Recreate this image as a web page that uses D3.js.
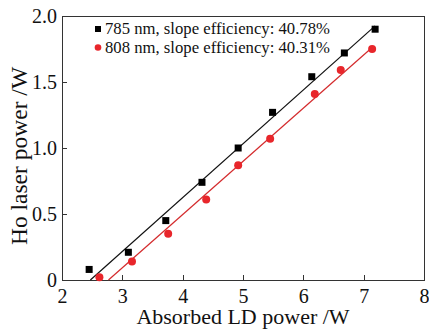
<!doctype html>
<html>
<head>
  <style>
      body { margin:0; background:#fff; }
      svg { width:429px; height:333px; display:block; }
      .axis path, .axis line { stroke:#333; shape-rendering:crispEdges; }
  </style>
  <script src="https://cdn.jsdelivr.net/npm/d3@7"></script>
</head>
<body>
  <script>
      // data
      var x785 = [2.45, 3.10, 3.72, 4.32, 4.92, 5.49, 6.14, 6.68, 7.19];
      var y785 = [0.08, 0.21, 0.45, 0.74, 1.00, 1.27, 1.54, 1.72, 1.90];
      var x808 = [2.62, 3.16, 3.76, 4.39, 4.92, 5.45, 6.19, 6.62, 7.14];
      var y808 = [0.02, 0.14, 0.35, 0.61, 0.87, 1.07, 1.41, 1.59, 1.75];
      // fitted lines: [x at zero, slope]
      var fit785 = [2.47, 0.4078];
      var fit808 = [2.77, 0.4031];
      var legendText = ["785 nm, slope efficiency: 40.78%", "808 nm, slope efficiency: 40.31%"];
      var xTicks = [2, 3, 4, 5, 6, 7, 8];
      var yTicks = [0, 0.5, 1.0, 1.5, 2.0];

      var mLeft = 62, mRight = 424, mTop = 16, mBottom = 280;
      var serif = "'Liberation Serif'";
      var red = "#e8262b";

      var svg = d3.select("body").append("svg")
         .attr("width", 429).attr("height", 333);

      var x = d3.scaleLinear().domain([2, 8]).range([mLeft, mRight]);
      var y = d3.scaleLinear().domain([0, 2]).range([mBottom, mTop]);

      // frame
      svg.append("rect")
         .attr("x", mLeft).attr("y", mTop)
         .attr("width", mRight-mLeft).attr("height", mBottom-mTop)
         .attr("fill", "none").attr("stroke", "#333")
         .attr("shape-rendering", "crispEdges");

      var gx = svg.append("g").attr("class", "axis")
         .attr("transform", "translate(0," + mBottom + ")")
         .call(d3.axisBottom(x).tickValues(xTicks).tickSizeInner(-5).tickSizeOuter(0).tickPadding(9)
               .tickFormat(d3.format("d")));

      var gy = svg.append("g").attr("class", "axis")
         .attr("transform", "translate(" + mLeft + ",0)")
         .call(d3.axisLeft(y).tickValues(yTicks).tickSizeInner(-5).tickSizeOuter(0).tickPadding(5)
               .tickFormat(function(d) { return d === 0 ? "0" : d3.format(".1f")(d); }));

      // d3 puts font-family="sans-serif" on the axis groups; drop it
      gx.attr("font-family", null).attr("font-size", null);
      gy.attr("font-family", null).attr("font-size", null);
      svg.selectAll(".axis .domain").remove();
      svg.selectAll(".axis text")
         .style("font-family", serif)
         .style("font-size", "20px")
         .style("fill", "#111");

      // fit lines
      function fitLine(fit, xs, color) {
         var x1 = xs[xs.length-1];
         svg.append("line")
            .attr("x1", x(fit[0])).attr("y1", y(0))
            .attr("x2", x(x1)).attr("y2", y(fit[1]*(x1-fit[0])))
            .attr("stroke", color).attr("stroke-width", 1.2);
      }
      fitLine(fit785, x785, "#111");
      fitLine(fit808, x808, "#d42a2c");

      svg.append("g").selectAll("rect")
         .data(x785)
         .enter().append("rect")
         .attr("x", function(d) { return x(d) - 3.5 })
         .attr("y", function(d,i) { return y(y785[i]) - 3.5 })
         .attr("width", 7).attr("height", 7)
         .attr("fill", "#000");

      svg.append("g").selectAll("circle")
         .data(x808)
         .enter().append("circle")
         .attr("cx", function(d) { return x(d) })
         .attr("cy", function(d,i) { return y(y808[i]) })
         .attr("r", 4)
         .attr("fill", red);

      // legend
      svg.append("rect").attr("x", 95).attr("y", 26).attr("width", 6).attr("height", 6).attr("fill", "#000");
      svg.append("circle").attr("cx", 98).attr("cy", 47.5).attr("r", 3.3).attr("fill", red);
      svg.selectAll(".leg")
         .data(legendText)
         .enter().append("text")
         .attr("class", "leg")
         .attr("x", 105)
         .attr("y", function(d,i) { return 33.5 + i*19 })
         .style("font-family", serif)
         .style("font-size", "16.7px")
         .style("fill", "#111")
         .text(function(d) { return d });

      // axis titles
      svg.append("text")
         .attr("x", 243)
         .attr("y", 324)
         .style("font-family", serif)
         .style("font-size", "22px")
         .style("fill", "#111")
         .style("text-anchor", "middle")
         .text("Absorbed LD power /W");

      svg.append("text")
         .attr("transform", "translate(27,156) rotate(-90)")
         .style("font-family", serif)
         .style("font-size", "23.5px")
         .style("fill", "#111")
         .style("text-anchor", "middle")
         .text("Ho laser power /W");
  </script>
</body>
</html>
